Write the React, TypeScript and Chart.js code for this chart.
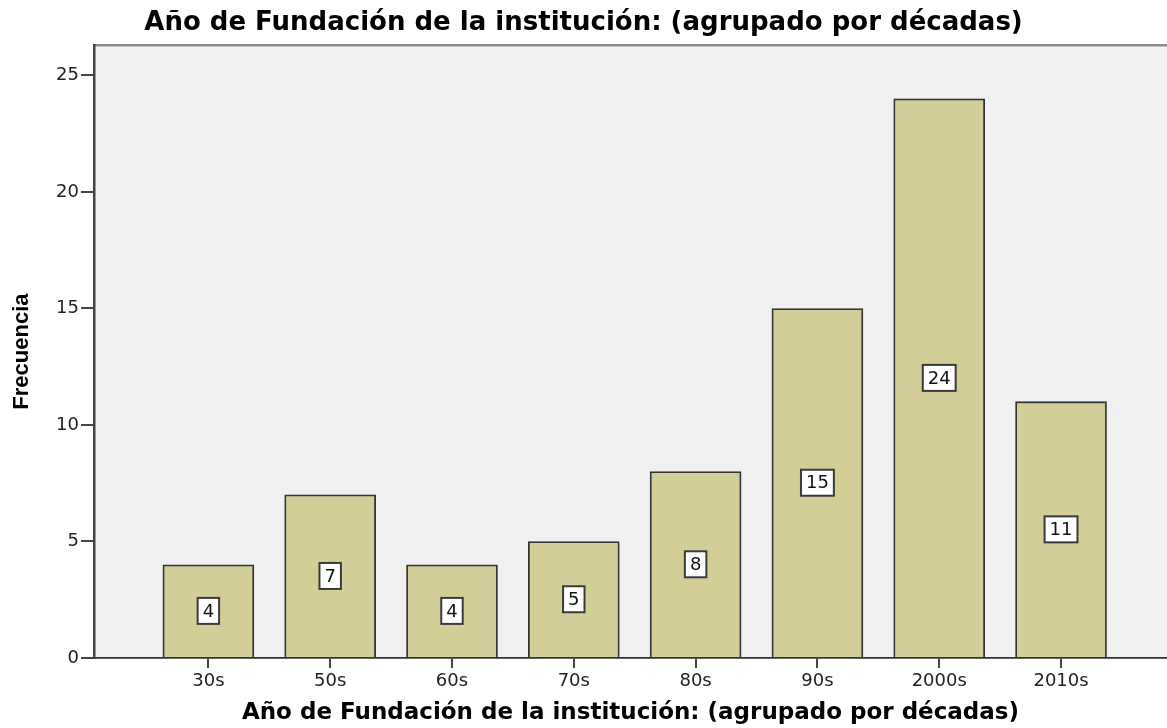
import React, { useEffect, useRef } from 'react';
import { Chart, registerables } from 'chart.js';

Chart.register(...registerables);

const categories = ['30s', '50s', '60s', '70s', '80s', '90s', '2000s', '2010s'];
const frequencies = [4, 7, 4, 5, 8, 15, 24, 11];
const yTickValues = [0, 5, 10, 15, 20, 25];
const chartTitle = 'Año de Fundación de la institución: (agrupado por décadas)';
const xAxisTitle = 'Año de Fundación de la institución: (agrupado por décadas)';
const yAxisTitle = 'Frecuencia';

export default function App() {
  const canvasRef = useRef<HTMLCanvasElement>(null);

  useEffect(() => {
    document.body.style.margin = '0';
    const canvas = canvasRef.current;
    if (!canvas) return;

    const plotBackground = {
      id: 'plotBackground',
      beforeDraw(chart: any) {
        const { ctx, chartArea: a } = chart;
        ctx.save();
        ctx.fillStyle = '#f0f0f0';
        ctx.fillRect(a.left, a.top, a.right - a.left, a.bottom - a.top);
        ctx.strokeStyle = '#8c8c8c';
        ctx.lineWidth = 2.5;
        ctx.beginPath();
        ctx.moveTo(a.left, a.top);
        ctx.lineTo(a.right, a.top);
        ctx.stroke();
        ctx.restore();
      },
    };

    const barLabels = {
      id: 'barLabels',
      afterDatasetsDraw(chart: any) {
        const { ctx } = chart;
        const meta = chart.getDatasetMeta(0);
        ctx.save();
        ctx.font = '18px "DejaVu Sans"';
        ctx.textAlign = 'center';
        ctx.textBaseline = 'middle';
        meta.data.forEach((el: any, i: number) => {
          const text = String(frequencies[i]);
          const cx = el.x;
          const cy = (el.y + el.base) / 2;
          const w = ctx.measureText(text).width + 10;
          const h = 26;
          ctx.fillStyle = '#ffffff';
          ctx.fillRect(cx - w / 2, cy - h / 2, w, h);
          ctx.strokeStyle = '#3a3a3a';
          ctx.lineWidth = 2;
          ctx.strokeRect(cx - w / 2, cy - h / 2, w, h);
          ctx.fillStyle = '#111111';
          ctx.fillText(text, cx, cy + 1);
        });
        ctx.restore();
      },
    };

    const chart = new Chart(canvas, {
      type: 'bar',
      data: {
        datasets: [
          {
            data: frequencies.map((v, i) => ({ x: i, y: v })),
            backgroundColor: '#d3ce97',
            borderColor: '#333333',
            borderWidth: 1.8,
            barThickness: 91,
          },
        ],
      },
      options: {
        responsive: false,
        animation: false,
        layout: { padding: { left: 0, right: 0, top: 0, bottom: 0 } },
        plugins: {
          legend: { display: false },
          tooltip: { enabled: false },
          title: {
            display: true,
            text: chartTitle,
            color: '#000000',
            font: { family: '"DejaVu Sans"', size: 26, weight: 'bold' },
            padding: { top: 8, bottom: 6 },
          },
        },
        scales: {
          x: {
            type: 'linear',
            offset: false,
            min: -0.939,
            max: 7.87,
            afterBuildTicks(scale: any) {
              scale.ticks = categories.map((_, i) => ({ value: i }));
            },
            afterFit(scale: any) {
              scale.height = 70;
            },
            ticks: {
              autoSkip: false,
              maxRotation: 0,
              color: '#222222',
              padding: 3,
              font: { family: '"DejaVu Sans"', size: 18 },
              callback: (v: any) => categories[v] ?? '',
            },
            grid: {
              offset: false,
              drawOnChartArea: false,
              drawTicks: true,
              tickLength: 10,
              color: '#444444',
              lineWidth: 2,
            },
            border: { display: true, color: '#333333', width: 1.8 },
            title: {
              display: true,
              text: xAxisTitle,
              color: '#000000',
              font: { family: '"DejaVu Sans"', size: 23, weight: 'bold' },
              padding: { top: 0, bottom: 1 },
            },
          },
          y: {
            type: 'linear',
            min: 0,
            max: 26.3,
            afterBuildTicks(scale: any) {
              scale.ticks = yTickValues.map((v) => ({ value: v }));
            },
            afterFit(scale: any) {
              scale.width = 94;
            },
            ticks: {
              color: '#222222',
              padding: 2,
              font: { family: '"DejaVu Sans"', size: 18 },
            },
            grid: {
              drawOnChartArea: false,
              drawTicks: true,
              tickLength: 13,
              color: '#444444',
              lineWidth: 2,
            },
            border: { display: true, color: '#444444', width: 2.5 },
            title: {
              display: true,
              text: yAxisTitle,
              color: '#000000',
              font: { family: '"Liberation Sans"', size: 22, weight: 'bold' },
              padding: { top: 9, bottom: 0 },
            },
          },
        },
      },
      plugins: [plotBackground, barLabels],
    });

    return () => chart.destroy();
  }, []);

  return (
    <div style={{ width: 1167, height: 728 }}>
      <canvas ref={canvasRef} width={1167} height={728} style={{ display: 'block' }} />
    </div>
  );
}
